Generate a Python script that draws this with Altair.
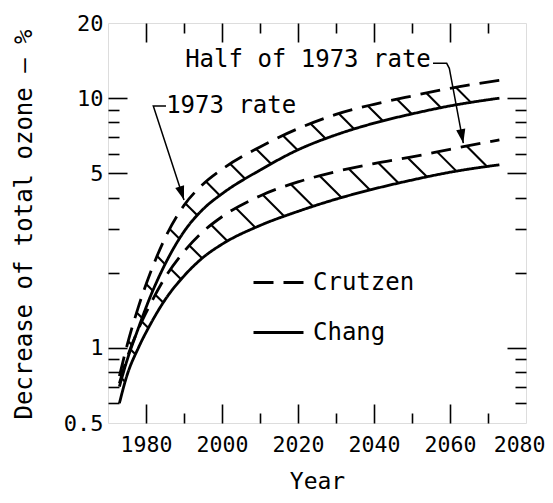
import math
import altair as alt
import numpy as np
import pandas as pd

# ---------------- values ----------------
years = [1973, 1975, 1978, 1981, 1985, 1990, 1995, 2000, 2010, 2020, 2030, 2040, 2050, 2060, 2073]
crutzen_1973 = [0.77, 1.02, 1.46, 1.97, 2.75, 3.72, 4.52, 5.19, 6.38, 7.55, 8.61, 9.45, 10.2, 10.95, 11.8]
chang_1973 = [0.70, 0.89, 1.20, 1.585, 2.16, 2.92, 3.59, 4.14, 5.15, 6.21, 7.13, 7.94, 8.65, 9.31, 10.0]
crutzen_half = [0.72, 0.91, 1.19, 1.48, 1.91, 2.43, 2.92, 3.35, 4.06, 4.62, 5.08, 5.47, 5.82, 6.24, 6.81]
chang_half = [0.60, 0.776, 1.00, 1.23, 1.556, 1.94, 2.30, 2.60, 3.09, 3.52, 3.94, 4.33, 4.70, 5.05, 5.41]

x_labeled = [1980, 2000, 2020, 2040, 2060, 2080]
x_minor = [1980, 1990, 2000, 2010, 2020, 2030, 2040, 2050, 2060, 2070]
y_labeled = [0.5, 1, 5, 10, 20]
y_minor = [0.6, 0.7, 0.8, 0.9, 1, 2, 3, 4, 5, 6, 7, 8, 9, 10]

# annotation anchors (year, value)
ann_full_text = ("1973 rate", 1985.3, 8.72)
ann_half_text = ("Half of 1973 rate", 1990.3, 13.33)
ann_full_path = [(1985.26, 9.30), (1981.92, 9.30), (1990.0, 3.91)]
ann_half_path = [(2055.53, 13.79), (2059.13, 13.79), (2059.82, 13.17), (2063.5, 6.6)]

# ---------------- geometry helpers (mirror of the chart scales) ----------------
W, H = 418, 400
X0, X1 = 1970, 2080
Y0, Y1 = 0.5, 20
LY0, LY1 = math.log10(Y0), math.log10(Y1)
FONT = "DejaVu Sans Mono"
DASH = [20, 10]


def to_px(yr, v):
    yr = np.asarray(yr, float)
    v = np.asarray(v, float)
    return (yr - X0) / (X1 - X0) * W, (LY1 - np.log10(v)) / (LY1 - LY0) * H


def from_px(px, py):
    return X0 + px / W * (X1 - X0), 10 ** (LY1 - py / H * (LY1 - LY0))


def sgn(v):
    return -1.0 if v < 0 else 1.0


def tangents(xs, ys):
    n = len(xs)
    t = [0.0] * n
    for i in range(1, n - 1):
        h0 = xs[i] - xs[i - 1]
        h1 = xs[i + 1] - xs[i]
        s0 = (ys[i] - ys[i - 1]) / h0
        s1 = (ys[i + 1] - ys[i]) / h1
        p = (s0 * h1 + s1 * h0) / (h0 + h1)
        t[i] = (sgn(s0) + sgn(s1)) * min(abs(s0), abs(s1), 0.5 * abs(p))
    h = xs[1] - xs[0]
    t[0] = (3 * (ys[1] - ys[0]) / h - t[1]) / 2
    h = xs[-1] - xs[-2]
    t[-1] = (3 * (ys[-1] - ys[-2]) / h - t[-2]) / 2
    return np.array(t)


def hermite(xs, ys, ts, x):
    x = np.asarray(x, float)
    i = np.clip(np.searchsorted(xs, x) - 1, 0, len(xs) - 2)
    h = xs[i + 1] - xs[i]
    u = (x - xs[i]) / h
    h00 = 2 * u**3 - 3 * u**2 + 1
    h10 = u**3 - 2 * u**2 + u
    h01 = -2 * u**3 + 3 * u**2
    h11 = u**3 - u**2
    return h00 * ys[i] + h10 * h * ts[i] + h01 * ys[i + 1] + h11 * h * ts[i + 1]


def hatch_rows(dvals, svals, frac=0.3):
    dx, dy = to_px(years, dvals)
    sx, sy = to_px(years, svals)
    dt = tangents(dx, dy)
    st = tangents(sx, sy)
    xx = np.linspace(dx[0], dx[-1], 8000)
    yy = hermite(dx, dy, dt, xx)
    s = np.concatenate([[0], np.cumsum(np.hypot(np.diff(xx), np.diff(yy)))])
    period = DASH[0] + DASH[1]
    rows = []
    k = 0
    ss = np.linspace(0, 120, 4801)
    while k * period + frac * DASH[0] < s[-1]:
        sp = k * period + frac * DASH[0]
        k += 1
        px = float(np.interp(sp, s, xx))
        py = float(np.interp(sp, s, yy))
        qx = px + ss
        ok = qx <= sx[-1]
        g = hermite(sx, sy, st, np.minimum(qx, sx[-1])) - (py + ss)
        idx = np.where((g <= 0) & ok)[0]
        if len(idx) == 0:
            continue
        j = idx[0]
        ex, ey = px + ss[j], py + ss[j]
        y1, v1 = from_px(px, py)
        y2, v2 = from_px(ex, ey)
        rows.append({"year": y1, "value": v1, "year2": y2, "value2": v2})
    return rows


# ---------------- data tables ----------------
line_rows = []
for name, model, vals in [
    ("c73", "Crutzen", crutzen_1973),
    ("h73", "Chang", chang_1973),
    ("chalf", "Crutzen", crutzen_half),
    ("hhalf", "Chang", chang_half),
]:
    for yr, v in zip(years, vals):
        line_rows.append({"year": yr, "value": v, "model": model, "curve": name})
lines_df = pd.DataFrame(line_rows)

hatch_df = pd.DataFrame(hatch_rows(crutzen_1973, chang_1973) + hatch_rows(crutzen_half, chang_half))

ann_rows = []
for gid, path in [("a", ann_full_path), ("b", ann_half_path)]:
    for i, (yr, v) in enumerate(path):
        ann_rows.append({"year": yr, "value": v, "g": gid, "i": i})
ann_df = pd.DataFrame(ann_rows)

head_rows = []
for path in [ann_full_path, ann_half_path]:
    (ya, va), (yb, vb) = path[-2], path[-1]
    ax, ay = to_px(ya, va)
    bx, by = to_px(yb, vb)
    ang = math.degrees(math.atan2(float(bx - ax), float(-(by - ay)))) % 360
    head_rows.append({"year": yb, "value": vb, "ang": ang})
head_df = pd.DataFrame(head_rows)

text_df = pd.DataFrame(
    [{"year": t[1], "value": t[2], "label": t[0]} for t in [ann_full_text, ann_half_text]]
)

# ---------------- scales / encodings ----------------
xs = alt.Scale(domain=[X0, X1], nice=False, zero=False)
ys = alt.Scale(type="log", domain=[Y0, Y1], nice=False)

tick_x = {"condition": {"test": "datum.value % 20 === 0", "value": 19}, "value": 10}
tick_y = {"condition": {"test": "datum.value === 1 || datum.value === 5 || datum.value === 10", "value": 19}, "value": 11}

x_main = alt.Axis(
    values=x_labeled, ticks=False, domain=False, grid=False, labelFlush=True, labelFlushOffset=19,
    labelOverlap=False,
    labelFont=FONT, labelFontSize=21.5, labelColor="black", labelPadding=11, format="d",
    title="Year", titleFont=FONT, titleFontSize=23, titleFontWeight="normal", titleColor="black",
    titleX=W / 2, titleY=65, titleBaseline="alphabetic", titleAlign="center",
)
y_main = alt.Axis(
    values=y_labeled, ticks=False, domain=False, grid=False, labelOverlap=False, labelFlush=False,
    labelFont=FONT, labelFontSize=22, labelColor="black", labelPadding=5, format="~g",
    title="Decrease of total ozone — %", titleFont=FONT, titleFontSize=24, titleFontWeight="normal",
    titleColor="black", titleAngle=270, titleX=-77, titleY=201, titleAlign="center",
    titleBaseline="alphabetic",
)


def tick_axis_x(orient):
    return alt.Axis(orient=orient, offset=-H, values=x_minor, labels=False, domain=False, grid=False,
                    tickSize=tick_x, tickColor="black", tickWidth=1.6, title=None)


def tick_axis_y(orient):
    return alt.Axis(orient=orient, offset=-W, values=y_minor, labels=False, domain=False, grid=False,
                    tickSize=tick_y, tickColor="black", tickWidth=1.6, title=None)


hatch = alt.Chart(hatch_df).mark_rule(color="black", strokeWidth=2.1).encode(
    x=alt.X("year:Q", scale=xs, axis=tick_axis_x("top")),
    y=alt.Y("value:Q", scale=ys, axis=tick_axis_y("right")),
    x2="year2:Q",
    y2="value2:Q",
)

lines = alt.Chart(lines_df).mark_line(interpolate="monotone", color="black", strokeWidth=2.8).encode(
    x=alt.X("year:Q", scale=xs, axis=x_main),
    y=alt.Y("value:Q", scale=ys, axis=y_main),
    detail="curve:N",
    strokeDash=alt.StrokeDash(
        "model:N",
        scale=alt.Scale(domain=["Crutzen", "Chang"], range=[DASH, [1, 0]]),
        legend=alt.Legend(
            orient="none", legendX=144, legendY=233, title=None, direction="vertical",
            symbolType="stroke", symbolSize=2500, symbolStrokeWidth=3, symbolStrokeColor="black",
            labelFont=FONT, labelFontSize=24, labelColor="black", labelOffset=8,
            rowPadding=11, padding=0,
        ),
    ),
)

ann = alt.Chart(ann_df).mark_line(color="black", strokeWidth=1.5).encode(
    x=alt.X("year:Q", scale=xs, axis=tick_axis_x("bottom")),
    y=alt.Y("value:Q", scale=ys, axis=tick_axis_y("left")),
    detail="g:N",
    order="i:Q",
)

heads = alt.Chart(head_df).mark_point(
    shape="M0,0L-0.33,1L0.33,1Z", filled=True, color="black", opacity=1, size=784
).encode(
    x=alt.X("year:Q", scale=xs, axis=None),
    y=alt.Y("value:Q", scale=ys, axis=None),
    angle=alt.Angle("ang:Q", scale=None),
)

texts = alt.Chart(text_df).mark_text(
    align="left", baseline="alphabetic", font=FONT, fontSize=24, color="black"
).encode(
    x=alt.X("year:Q", scale=xs, axis=None),
    y=alt.Y("value:Q", scale=ys, axis=None),
    text="label:N",
)

chart = (
    alt.layer(hatch, lines, ann, heads, texts)
    .resolve_scale(x="shared", y="shared")
    .resolve_axis(x="independent", y="independent")
    .properties(
        width=W, height=H,
        autosize=alt.AutoSizeParams(type="none"),
        padding={"left": 100, "top": 15, "right": 19, "bottom": 72},
    )
    .configure_view(stroke="black", strokeWidth=1.8)
    .configure(background="white")
)

chart.save("out.html", embed_options={"renderer": "svg", "actions": False})
